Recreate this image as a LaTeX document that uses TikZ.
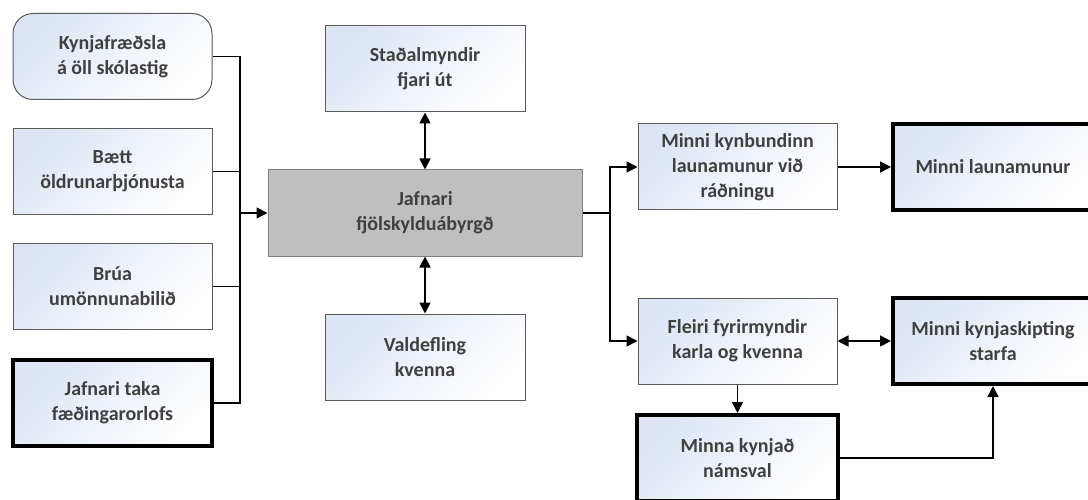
\documentclass[tikz,border=0pt]{standalone}
\usepackage{fontspec}
\setmainfont{Carlito}
\usepackage{xcolor}
\usetikzlibrary{arrows.meta, positioning}

\definecolor{txtgray}{HTML}{404040}
\definecolor{boxline}{HTML}{5A5A5A}
\definecolor{boxtint}{HTML}{DDE5F4}
\definecolor{hubfill}{HTML}{BFBFBF}
\definecolor{hubline}{HTML}{7F7F7F}

\begin{document}
\begin{tikzpicture}[
    x=1pt, y=-1pt,
    node distance=28pt and 56pt,
    stagebox/.style={rectangle, minimum width=199pt, minimum height=86pt, align=center, text=txtgray, font=\fontsize{20}{25}\selectfont\bfseries},
    box/.style={stagebox, draw=boxline, line width=1pt, top color=boxtint, bottom color=white, shading angle=45},
    effect/.style={box, draw=black, line width=4pt},
    hub/.style={stagebox, fill=hubfill, draw=hubline, line width=1pt, minimum width=314pt},
    link/.style={line width=1.6pt},
    arrow/.style={link, -{Triangle[length=11pt, width=11pt]}},
    dblarrow/.style={link, {Triangle[length=11pt, width=11pt]}-{Triangle[length=11pt, width=11pt]}},
]
\clip (0,0) rectangle (1088,500);

% Left column: measures
\node[box, rounded corners=20pt] (kynfr) at (112.5,56.5) {Kynjafræðsla\\á öll skólastig};
\node[box, below=of kynfr] (baett) {Bætt\\öldrunarþjónusta};
\node[box, below=of baett] (brua) {Brúa\\umönnunabilið};
\node[effect, below=of brua] (orlof) {Jafnari taka\\fæðingarorlofs};

% Centre
\node[hub] (fjol) at (425,213) {Jafnari\\fjölskylduábyrgð};
\node[box, minimum width=200pt, above=57pt of fjol] (stadal) {Staðalmyndir\\fjari út};
\node[box, minimum width=200pt, below=57pt of fjol] (valdef) {Valdefling\\kvenna};

% Right side: outcomes
\node[box] (kynb) at (737.5,167) {Minni kynbundinn\\launamunur við\\ráðningu};
\node[effect, minimum width=200pt] (laun) at (993,167) {Minni launamunur};
\node[box] (fleiri) at (737.5,341) {Fleiri fyrirmyndir\\karla og kvenna};
\node[effect, minimum width=200pt] (kynsk) at (993,341) {Minni kynjaskipting\\starfa};
\node[effect, minimum width=201pt] (namsv) at (737.5,458) {Minna kynjað\\námsval};

% Bus lines
\coordinate (lbus) at (240,213);
\coordinate (rbus) at (610,213);

% Arrows
\draw[link] (kynfr.east) -| (lbus);
\draw[link] (orlof.east) -| (lbus);
\draw[link] (baett.east) -- (baett.east -| lbus);
\draw[link] (brua.east) -- (brua.east -| lbus);
\draw[arrow] (lbus) -- (fjol.west);
\draw[dblarrow] (stadal) -- (fjol);
\draw[dblarrow] (fjol) -- (valdef);
\draw[link] (fjol.east) -- (rbus);
\draw[arrow] (rbus) |- (kynb.west);
\draw[arrow] (rbus) |- (fleiri.west);
\draw[arrow] (kynb) -- (laun);
\draw[dblarrow] (fleiri) -- (kynsk);
\draw[arrow] (fleiri) -- (namsv);
\draw[arrow] (namsv.east) -| (kynsk.south);

\end{tikzpicture}
\end{document}
